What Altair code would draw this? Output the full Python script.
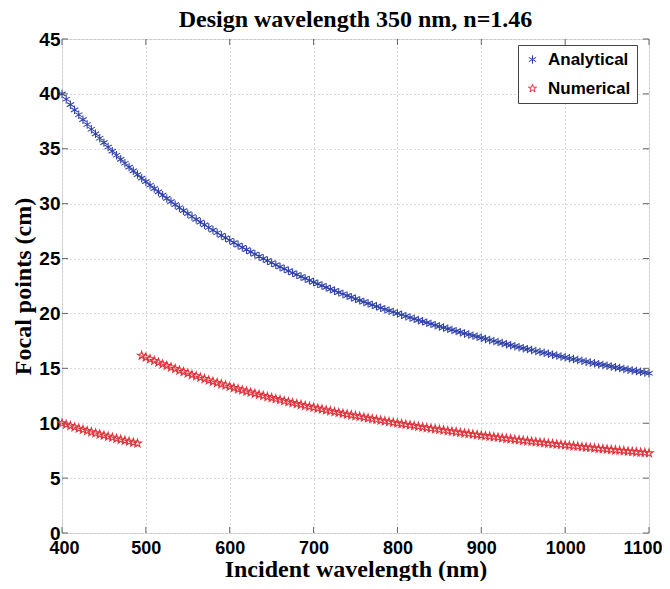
import altair as alt
import pandas as pd

# Incident wavelength sampling (nm), 5 nm steps
wavelength = list(range(400, 1105, 5))

analytical = [
    40.00, 39.51, 39.02, 38.55, 38.10, 37.65, 37.21, 36.78, 36.36, 35.96,
    35.56, 35.16, 34.78, 34.41, 34.04, 33.68, 33.33, 32.99, 32.65, 32.32,
    32.00, 31.68, 31.37, 31.07, 30.77, 30.48, 30.19, 29.91, 29.63, 29.36,
    29.09, 28.83, 28.57, 28.32, 28.07, 27.83, 27.59, 27.35, 27.12, 26.89,
    26.67, 26.45, 26.23, 26.02, 25.81, 25.60, 25.40, 25.20, 25.00, 24.81,
    24.62, 24.43, 24.24, 24.06, 23.88, 23.70, 23.53, 23.36, 23.19, 23.02,
    22.86, 22.70, 22.54, 22.38, 22.22, 22.07, 21.92, 21.77, 21.62, 21.48,
    21.33, 21.19, 21.05, 20.92, 20.78, 20.65, 20.51, 20.38, 20.25, 20.13,
    20.00, 19.88, 19.75, 19.63, 19.51, 19.39, 19.28, 19.16, 19.05, 18.93,
    18.82, 18.71, 18.60, 18.50, 18.39, 18.29, 18.18, 18.08, 17.98, 17.88,
    17.78, 17.68, 17.58, 17.49, 17.39, 17.30, 17.20, 17.11, 17.02, 16.93,
    16.84, 16.75, 16.67, 16.58, 16.49, 16.41, 16.33, 16.24, 16.16, 16.08,
    16.00, 15.92, 15.84, 15.76, 15.69, 15.61, 15.53, 15.46, 15.38, 15.31,
    15.24, 15.17, 15.09, 15.02, 14.95, 14.88, 14.81, 14.75, 14.68, 14.61,
    14.55,
]

numerical = [
    10.00, 9.88, 9.76, 9.64, 9.52, 9.41, 9.30, 9.20, 9.09, 8.99,
    8.89, 8.79, 8.70, 8.60, 8.51, 8.42, 8.33, 8.25, 8.16, 16.16,
    16.00, 15.84, 15.69, 15.53, 15.38, 15.24, 15.09, 14.95, 14.81, 14.68,
    14.55, 14.41, 14.29, 14.16, 14.04, 13.91, 13.79, 13.68, 13.56, 13.45,
    13.33, 13.22, 13.11, 13.01, 12.90, 12.80, 12.70, 12.60, 12.50, 12.40,
    12.31, 12.21, 12.12, 12.03, 11.94, 11.85, 11.76, 11.68, 11.59, 11.51,
    11.43, 11.35, 11.27, 11.19, 11.11, 11.03, 10.96, 10.88, 10.81, 10.74,
    10.67, 10.60, 10.53, 10.46, 10.39, 10.32, 10.26, 10.19, 10.13, 10.06,
    10.00, 9.94, 9.88, 9.82, 9.76, 9.70, 9.64, 9.58, 9.52, 9.47,
    9.41, 9.36, 9.30, 9.25, 9.20, 9.14, 9.09, 9.04, 8.99, 8.94,
    8.89, 8.84, 8.79, 8.74, 8.70, 8.65, 8.60, 8.56, 8.51, 8.47,
    8.42, 8.38, 8.33, 8.29, 8.25, 8.21, 8.16, 8.12, 8.08, 8.04,
    8.00, 7.96, 7.92, 7.88, 7.84, 7.80, 7.77, 7.73, 7.69, 7.66,
    7.62, 7.58, 7.55, 7.51, 7.48, 7.44, 7.41, 7.37, 7.34, 7.31,
    7.27,
]

series_names = ["Analytical", "Numerical"]
x_ticks = [400, 500, 600, 700, 800, 900, 1000, 1100]
y_ticks = [0, 5, 10, 15, 20, 25, 30, 35, 40, 45]

W, H = 587, 494
FRAME = "#666666"
BLUE = "#2f41a8"
RED = "#e0343c"
ASTERISK = "M0,-1L0,1M-0.866,-0.5L0.866,0.5M-0.866,0.5L0.866,-0.5"
STAR = ("M0,-1L0.225,-0.309L0.951,-0.309L0.363,0.118L0.588,0.809L0,0.382"
        "L-0.588,0.809L-0.363,0.118L-0.951,-0.309L-0.225,-0.309Z")
SANS = "Liberation Sans"
SERIF = "Liberation Serif"

df = pd.DataFrame({
    "wl": wavelength + wavelength,
    "f": analytical + numerical,
    "series": [series_names[0]] * len(analytical) + [series_names[1]] * len(numerical),
})
xt = pd.DataFrame({"v": x_ticks})
yt = pd.DataFrame({"v": y_ticks})

xscale = alt.Scale(domain=[400, 1100], nice=False, zero=False)
yscale = alt.Scale(domain=[0, 45], nice=False, zero=False)

legend_kw = dict(title=None, orient="none", legendX=456, legendY=6,
                 fillColor="white", strokeColor="#444", padding=6,
                 labelFont=SANS, labelFontSize=17, labelFontWeight="bold",
                 labelColor="#000", labelOffset=7, rowPadding=11,
                 symbolSize=72, symbolStrokeWidth=1)

points = alt.Chart(df).mark_point(filled=False, size=72, strokeWidth=1.1, opacity=1).encode(
    x=alt.X("wl:Q", scale=xscale, axis=alt.Axis(
        values=x_ticks, title="Incident wavelength (nm)", format="d",
        labelFont=SANS, labelFontSize=18, labelFontWeight="bold", labelColor="#000",
        labelPadding=6, ticks=False, tickSize=0, domain=False,
        grid=True, gridColor="#b4b4b4", gridDash=[1, 3], gridWidth=1,
        titleFont=SERIF, titleFontSize=24, titleFontWeight="bold", titleColor="#000",
        titleBaseline="alphabetic", titleY=43,
        labelFlush=True, labelFlushOffset=13, labelOverlap=False,
    )),
    y=alt.Y("f:Q", scale=yscale, axis=alt.Axis(
        values=y_ticks, title="Focal points (cm)",
        labelFont=SANS, labelFontSize=19, labelFontWeight="bold", labelColor="#000",
        labelPadding=2, ticks=False, tickSize=0, domain=False,
        grid=True, gridColor="#b4b4b4", gridDash=[1, 3], gridWidth=1,
        titleFont=SERIF, titleFontSize=24, titleFontWeight="bold", titleColor="#000",
        titleBaseline="alphabetic", titleX=-32,
        labelFlush=False, labelOverlap=False,
    )),
    color=alt.Color("series:N", scale=alt.Scale(domain=series_names, range=[BLUE, RED]),
                    legend=alt.Legend(**legend_kw)),
    shape=alt.Shape("series:N", scale=alt.Scale(domain=series_names, range=[ASTERISK, STAR]),
                    legend=alt.Legend(**legend_kw)),
)

tick_len = 6
bx = alt.Chart(xt).mark_rule(color=FRAME, strokeWidth=1).encode(
    x=alt.X("v:Q", scale=xscale), y=alt.value(H), y2=alt.value(H - tick_len))
tx = alt.Chart(xt).mark_rule(color=FRAME, strokeWidth=1).encode(
    x=alt.X("v:Q", scale=xscale), y=alt.value(0), y2=alt.value(tick_len))
ly = alt.Chart(yt).mark_rule(color=FRAME, strokeWidth=1).encode(
    y=alt.Y("v:Q", scale=yscale), x=alt.value(0), x2=alt.value(tick_len))
ry = alt.Chart(yt).mark_rule(color=FRAME, strokeWidth=1).encode(
    y=alt.Y("v:Q", scale=yscale), x=alt.value(W), x2=alt.value(W - tick_len))

chart = alt.layer(points, bx, tx, ly, ry).properties(
    width=W, height=H,
    title=alt.Title("Design wavelength 350 nm, n=1.46", font=SERIF, fontSize=24,
                    fontWeight="bold", color="#000", offset=0, dy=2, anchor="middle",
                    frame="group"),
    autosize=alt.AutoSizeParams(type="none"),
    padding={"left": 54, "top": 31, "right": 13, "bottom": 48},
).configure_view(stroke=FRAME, strokeWidth=1).configure(background="white")

chart.save("out.html", embed_options={"renderer": "svg", "actions": False})
